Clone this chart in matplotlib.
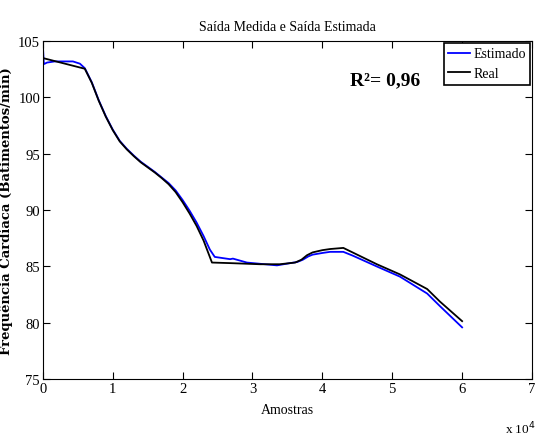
import matplotlib.pyplot as plt

# amostras em unidades de 10^4
x_real = [0.0, 0.60, 0.70, 0.80, 0.90, 1.00, 1.10, 1.20, 1.30, 1.40, 1.50, 1.60, 1.70, 1.80, 1.90,
          2.00, 2.10, 2.20, 2.30, 2.42, 2.68, 3.11, 3.39, 3.61, 3.70, 3.78, 3.86, 4.00, 4.11, 4.30,
          4.78, 5.11, 5.50, 5.68, 6.0]
y_real = [103.5, 102.55, 101.3, 99.7, 98.3, 97.1, 96.1, 95.4, 94.8, 94.25, 93.8, 93.35, 92.85, 92.3, 91.6,
          90.7, 89.7, 88.6, 87.3, 85.35, 85.3, 85.2, 85.2, 85.35, 85.6, 86.0, 86.25, 86.45, 86.55, 86.65,
          85.2, 84.3, 83.0, 81.9, 80.15]

x_est = [0.0, 0.014, 0.06, 0.17, 0.43, 0.53, 0.60, 0.70, 0.80, 0.90, 1.00, 1.10, 1.20, 1.30, 1.40,
         1.50, 1.60, 1.70, 1.80, 1.90, 2.00, 2.10, 2.20, 2.30, 2.39, 2.46, 2.68, 2.72, 2.92, 3.35,
         3.54, 3.64, 3.72, 3.80, 3.86, 4.00, 4.11, 4.30, 4.44, 4.78, 5.11, 5.50, 5.68, 6.0]
y_est = [104.6, 102.96, 103.1, 103.2, 103.2, 103.0, 102.6, 101.35, 99.75, 98.35, 97.15, 96.15, 95.45, 94.85, 94.3,
         93.85, 93.4, 92.9, 92.4, 91.75, 90.9, 89.95, 88.9, 87.7, 86.5, 85.85, 85.65, 85.7, 85.35, 85.1,
         85.3, 85.4, 85.6, 85.9, 86.05, 86.2, 86.3, 86.3, 85.95, 85.0, 84.1, 82.6, 81.5, 79.6]

plt.rcParams['font.family'] = ['Liberation Serif', 'DejaVu Serif']

fig = plt.figure(figsize=(5.36, 4.39), dpi=100)
ax = fig.add_axes([0.080, 0.134, 0.9125, 0.770])

ax.plot(x_est, y_est, color='#0000ff', lw=1.3, label='Estimado')
ax.plot(x_real, y_real, color='black', lw=1.3, label='Real')

ax.set_xlim(0, 7)
ax.set_ylim(75, 105)
ax.set_xticks(range(0, 8))
ax.set_yticks(range(75, 106, 5))
ax.tick_params(direction='in', top=True, right=True, length=5, labelsize=10.5, pad=2)

ax.set_title('Saída Medida e Saída Estimada', fontsize=10, pad=8)
ax.set_xlabel('Amostras', fontsize=10, labelpad=6)
ax.set_ylabel('Frequência Cardíaca (Batimentos/min)', fontsize=9.5, fontweight='bold',
              family='DejaVu Serif')
ax.yaxis.set_label_coords(-0.062, 0.5)
ax.text(7.05, 71.4, 'x 10$^4$', fontsize=9.5, ha='right', va='top', clip_on=False)

ax.text(4.4, 101.6, 'R²= 0,96', fontsize=14, fontweight='bold', va='center')

leg = ax.legend(loc='upper right', fontsize=10, handlelength=1.6, handletextpad=0.2,
                borderaxespad=0.15, fancybox=False, edgecolor='black', framealpha=1,
                borderpad=0.3, labelspacing=0.5)
leg.get_frame().set_linewidth(1.2)

plt.savefig('out.png', dpi=100)
